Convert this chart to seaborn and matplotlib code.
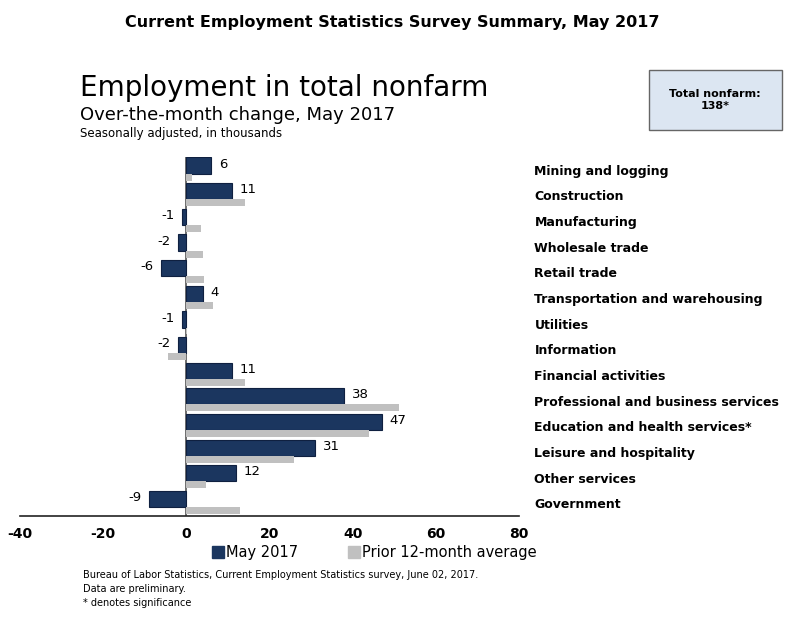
import pandas as pd
import matplotlib.pyplot as plt
import seaborn as sns
from matplotlib.patches import Rectangle

# Data (thousands, seasonally adjusted)
industries = [
    "Mining and logging", "Construction", "Manufacturing", "Wholesale trade",
    "Retail trade", "Transportation and warehousing", "Utilities", "Information",
    "Financial activities", "Professional and business services",
    "Education and health services*", "Leisure and hospitality",
    "Other services", "Government",
]
may_2017 = [6, 11, -1, -2, -6, 4, -1, -2, 11, 38, 47, 31, 12, -9]
prior_avg = [1.4, 14, 3.6, 3.9, 4.3, 6.5, 0.1, -4.5, 14, 51, 44, 25.8, 4.8, 12.8]
series_names = ["May 2017", "Prior 12-month average"]
x_ticks = [-40, -20, 0, 20, 40, 60, 80]

BLUE = "#1b365f"
GRAY = "#c0c0c0"

df = pd.concat([
    pd.DataFrame({"industry": industries, "value": may_2017, "series": series_names[0]}),
    pd.DataFrame({"industry": industries, "value": prior_avg, "series": series_names[1]}),
])

sns.set_style("white")
plt.rcParams["font.family"] = ["DejaVu Sans"]
plt.rcParams["text.color"] = "black"
plt.rcParams["xtick.color"] = "black"
plt.rcParams["ytick.color"] = "black"

fig = plt.figure(figsize=(8, 6.18), dpi=100)
ax = fig.add_axes([0.025, 0.165, 0.624, 0.581])

sns.barplot(data=df, y="industry", x="value", hue="series", orient="h",
            palette=[BLUE, GRAY], width=0.89, saturation=1, linewidth=0,
            ax=ax, legend=False)

# blue bar thick on top, gray bar thin underneath
for i, (b, g) in enumerate(zip(ax.containers[0], ax.containers[1])):
    top = i - 0.48
    b.set_y(top)
    b.set_height(0.63)
    b.set_edgecolor("#0f2040")
    b.set_linewidth(0.8)
    g.set_y(top + 0.63)
    g.set_height(0.27)

# value labels for May
for i, v in enumerate(may_2017):
    if v >= 0:
        ax.text(v + 1.8, i - 0.22, f"{v}", va="center", ha="left", fontsize=9.5)
    else:
        ax.text(v - 1.8, i - 0.22, f"{v}", va="center", ha="right", fontsize=9.5)

ax.set_xlim(-40, 80)
ax.set_ylim(13.5, -0.5)
ax.set_xticks(x_ticks)
ax.set_xticklabels([str(t) for t in x_ticks], fontweight="bold", fontsize=10)
ax.set_xlabel("")
ax.set_ylabel("")
ax.axvline(0, color="#555555", lw=1.2, zorder=0)

for s in ["top", "right", "left"]:
    ax.spines[s].set_visible(False)
ax.spines["bottom"].set_color("#222222")
ax.spines["bottom"].set_linewidth(1.2)
ax.tick_params(axis="x", direction="in", length=4, color="#222222", pad=8)

ax.yaxis.tick_right()
ax.set_yticks(range(len(industries)))
ax.set_yticklabels(industries, fontweight="bold", fontsize=9)
ax.tick_params(axis="y", length=0, pad=11)

# legend
handles = [plt.Line2D([], [], marker="s", ls="", color=c, markersize=9) for c in [BLUE, GRAY]]
fig.legend(handles, series_names, loc="center", bbox_to_anchor=(0.467, 0.106), ncol=2,
           frameon=False, fontsize=10.5, handletextpad=0.05, columnspacing=3.3, handlelength=1)

# titles
fig.text(0.49, 0.963, "Current Employment Statistics Survey Summary, May 2017",
         ha="center", va="center", fontsize=11.5, fontweight="bold")
fig.text(0.1, 0.857, "Employment in total nonfarm", ha="left", va="center", fontsize=20)
fig.text(0.1, 0.814, "Over-the-month change, May 2017", ha="left", va="center", fontsize=13)
fig.text(0.1, 0.784, "Seasonally adjusted, in thousands", ha="left", va="center", fontsize=8.5)

# total nonfarm box
fig.patches.append(Rectangle((0.811, 0.79), 0.166, 0.097, transform=fig.transFigure,
                             facecolor="#dce6f2", edgecolor="#666666", lw=1))
fig.text(0.894, 0.838, "Total nonfarm:\n138*", ha="center", va="center",
         fontsize=8, fontweight="bold", linespacing=1.2)

# footer
fig.text(0.104, 0.069, "Bureau of Labor Statistics, Current Employment Statistics survey, June 02, 2017.",
         ha="left", va="center", fontsize=7)
fig.text(0.104, 0.047, "Data are preliminary.", ha="left", va="center", fontsize=7)
fig.text(0.104, 0.025, "* denotes significance", ha="left", va="center", fontsize=7)

fig.savefig("out.png", dpi=100)
